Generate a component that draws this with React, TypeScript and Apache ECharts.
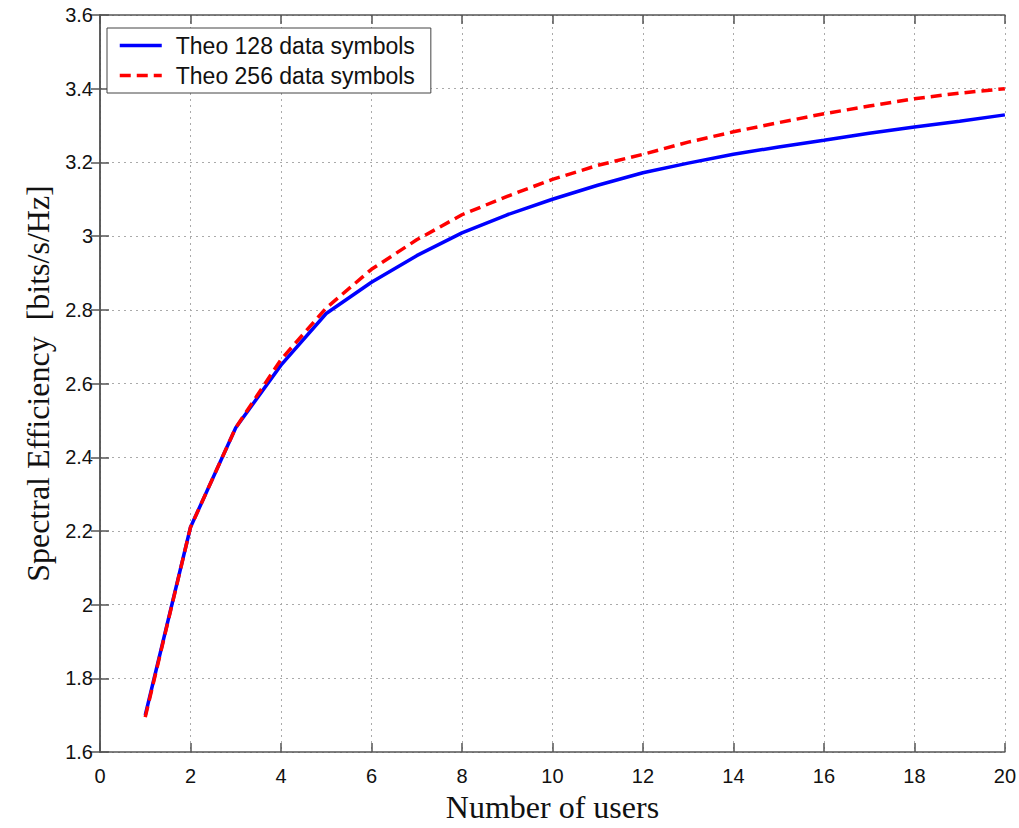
import React, { useEffect, useRef } from "react";
import * as echarts from "echarts";

const users = [1, 2, 3, 4, 5, 6, 7, 8, 9, 10, 11, 12, 13, 14, 15, 16, 17, 18, 19, 20];
const theo128 = [1.70, 2.21, 2.48, 2.65, 2.79, 2.875, 2.947, 3.009, 3.058, 3.100, 3.138, 3.172, 3.198, 3.222, 3.242, 3.260, 3.279, 3.296, 3.312, 3.329];
const theo256 = [1.695, 2.21, 2.48, 2.665, 2.805, 2.91, 2.99, 3.058, 3.108, 3.154, 3.192, 3.222, 3.255, 3.283, 3.308, 3.332, 3.353, 3.373, 3.388, 3.400];
const seriesNames = ["Theo 128 data symbols", "Theo 256 data symbols"];

export default function App() {
  const ref = useRef<HTMLDivElement>(null);
  useEffect(() => {
    if (!ref.current) return;
    const chart = echarts.init(ref.current, undefined, { renderer: "svg" });
    const axisColor = "#555";
    const gridLine = { show: true, lineStyle: { color: "#aaa", type: [2, 4] as any, width: 1 } };
    const tickFont = { fontFamily: "Liberation Sans, Arial, sans-serif", fontSize: 20, color: "#111" };
    const nameFont = { fontFamily: "Liberation Serif, Times New Roman, serif", fontSize: 32, color: "#111" };
    chart.setOption({
      animation: false,
      backgroundColor: "#ffffff",
      grid: { left: 100, top: 15, width: 906, height: 747, containLabel: false },
      legend: {
        orient: "vertical",
        left: 107,
        top: 28,
        data: seriesNames,
        backgroundColor: "#fff",
        borderColor: "#444",
        borderWidth: 1,
        borderRadius: 0,
        padding: [6, 16, 6, 11],
        itemWidth: 42,
        itemHeight: 14,
        itemGap: 7,
        itemStyle: { opacity: 0 },
        lineStyle: { width: 3.5 },
        textStyle: { ...tickFont, fontSize: 23, padding: [0, 0, 0, 9] },
      },
      xAxis: [
        {
          type: "value",
          min: 0,
          max: 20,
          interval: 2,
          name: "Number of users",
          nameLocation: "middle",
          nameGap: 38,
          nameTextStyle: nameFont,
          axisLine: { show: true, lineStyle: { color: axisColor, width: 1.5 } },
          axisTick: { show: true, inside: true, length: 9, lineStyle: { color: axisColor, width: 1.5 } },
          axisLabel: { ...tickFont, margin: 14 },
          splitLine: gridLine,
        },
        {
          type: "value",
          position: "top",
          min: 0,
          max: 20,
          interval: 2,
          axisLine: { show: true, lineStyle: { color: axisColor, width: 1.5 } },
          axisTick: { show: true, inside: true, length: 9, lineStyle: { color: axisColor, width: 1.5 } },
          axisLabel: { show: false },
          splitLine: { show: false },
        },
      ],
      yAxis: [
        {
          type: "value",
          min: 1.6,
          max: 3.6,
          interval: 0.2,
          name: "Spectral Efficiency  [bits/s/Hz]",
          nameLocation: "middle",
          nameGap: 45,
          nameTextStyle: nameFont,
          axisLine: { show: true, lineStyle: { color: axisColor, width: 1.5 } },
          axisTick: { show: true, inside: true, length: 9, lineStyle: { color: axisColor, width: 1.5 } },
          axisLabel: {
            ...tickFont,
            margin: 7,
            formatter: (v: number) => {
              const r = Math.round(v * 10) / 10;
              return Number.isInteger(r) ? String(r) : r.toFixed(1);
            },
          },
          splitLine: gridLine,
        },
        {
          type: "value",
          position: "right",
          min: 1.6,
          max: 3.6,
          interval: 0.2,
          axisLine: { show: true, lineStyle: { color: axisColor, width: 1.5 } },
          axisTick: { show: true, inside: true, length: 9, lineStyle: { color: axisColor, width: 1.5 } },
          axisLabel: { show: false },
          splitLine: { show: false },
        },
      ],
      series: [
        {
          name: seriesNames[0],
          type: "line",
          xAxisIndex: 0,
          yAxisIndex: 0,
          data: users.map((u, i) => [u, theo128[i]]),
          symbol: "none",
          lineStyle: { color: "#0000ff", width: 3.5 },
          itemStyle: { color: "#0000ff" },
          z: 3,
        },
        {
          name: seriesNames[1],
          type: "line",
          xAxisIndex: 0,
          yAxisIndex: 0,
          data: users.map((u, i) => [u, theo256[i]]),
          symbol: "none",
          lineStyle: { color: "#ff0000", width: 3.5, type: [11, 6] },
          itemStyle: { color: "#ff0000" },
          z: 4,
        },
      ],
    });
    return () => chart.dispose();
  }, []);
  return (
    <div
      ref={ref}
      style={{ position: "fixed", left: 0, top: 0, width: 1019, height: 828, background: "#fff" }}
    />
  );
}
